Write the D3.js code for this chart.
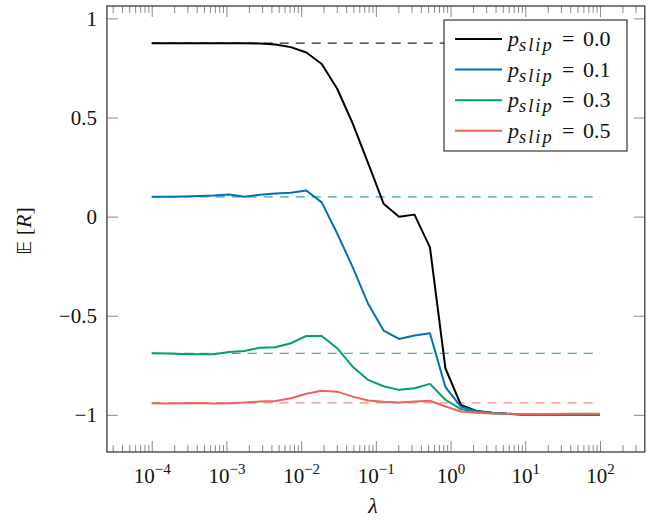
<!DOCTYPE html>
<html>
<head>
<meta charset="utf-8">
<script src="https://cdn.jsdelivr.net/npm/d3@7"></script>
<style>
  html, body { margin: 0; padding: 0; background: #fff; }
  svg { display: block; }
</style>
</head>
<body>
<script>
// Regularisation strengths (log-spaced sweep, 30 settings)
const lambdas = [
  1.000e-4, 1.610e-4, 2.593e-4, 4.175e-4, 6.723e-4,
  1.083e-3, 1.743e-3, 2.807e-3, 4.520e-3, 7.279e-3,
  1.172e-2, 1.887e-2, 3.039e-2, 4.894e-2, 7.880e-2,
  0.1269, 0.2043, 0.3290, 0.5298, 0.8532,
  1.374, 2.212, 3.562, 5.736, 9.237,
  14.87, 23.95, 38.57, 62.10, 100.0
];

// Expected return for each slip probability
const rewardSlip00 = [
  0.875, 0.875, 0.875, 0.875, 0.875, 0.875, 0.875, 0.873, 0.868, 0.855,
  0.828, 0.770, 0.645, 0.470, 0.270, 0.065, -0.001, 0.010, -0.155, -0.765,
  -0.950, -0.980, -0.990, -0.995, -0.998, -1.000, -1.000, -1.000, -1.000, -1.000
];
const rewardSlip01 = [
  0.100, 0.100, 0.102, 0.104, 0.107, 0.112, 0.100, 0.110, 0.116, 0.120,
  0.132, 0.072, -0.085, -0.255, -0.440, -0.575, -0.617, -0.600, -0.588, -0.860,
  -0.958, -0.982, -0.990, -0.995, -0.998, -1.000, -1.000, -1.000, -1.000, -1.000
];
const rewardSlip03 = [
  -0.689, -0.691, -0.693, -0.694, -0.694, -0.683, -0.678, -0.661, -0.659, -0.639,
  -0.602, -0.602, -0.664, -0.757, -0.824, -0.856, -0.874, -0.866, -0.844, -0.924,
  -0.971, -0.985, -0.992, -0.996, -0.998, -1.000, -1.000, -1.000, -0.999, -0.999
];
const rewardSlip05 = [
  -0.941, -0.943, -0.942, -0.940, -0.943, -0.941, -0.938, -0.933, -0.930, -0.916,
  -0.894, -0.879, -0.883, -0.908, -0.928, -0.934, -0.938, -0.933, -0.929, -0.958,
  -0.983, -0.990, -0.993, -0.995, -0.996, -0.997, -0.996, -0.994, -0.994, -0.994
];

// Unregularised reference return per slip probability (dashed)
const baselineReward = [0.875, 0.100, -0.690, -0.940];

const slipLabels = ["0.0", "0.1", "0.3", "0.5"];
const seriesColors = ["#000000", "#0173b2", "#029e73", "#ee625b"];

const xMajorTicks = [1e-4, 1e-3, 1e-2, 1e-1, 1e0, 1e1, 1e2];
const xTickExponents = ["\u22124", "\u22123", "\u22122", "\u22121", "0", "1", "2"];
const yTicks = [-1, -0.5, 0, 0.5, 1];
const yTickLabels = ["\u22121", "\u22120.5", "0", "0.5", "1"];

const W = 652, H = 521;
const plotL = 106.9, plotR = 644.8, plotT = 6, plotB = 452;
const serifFont = "'Liberation Serif', 'Times New Roman', 'DejaVu Serif', serif";

const series = [rewardSlip00, rewardSlip01, rewardSlip03, rewardSlip05];

const svg = d3.select("body").append("svg")
  .attr("width", W).attr("height", H)
  .attr("font-family", serifFont);
svg.append("rect").attr("width", W).attr("height", H).attr("fill", "#fff");

const x = d3.scaleLog().domain([Math.pow(10, -4.6), Math.pow(10, 2.6)]).range([plotL, plotR]);
const y = d3.scaleLinear().domain([-1.1875, 1.0625]).range([plotB, plotT]);

// minor ticks at 2..9 × 10^d inside the domain
const [xmin, xmax] = x.domain();
const xMinorTicks = [];
for (let d = -5; d <= 2; d++) {
  for (let m = 2; m <= 9; m++) {
    const v = m * Math.pow(10, d);
    if (v >= xmin && v <= xmax) xMinorTicks.push(v);
  }
}

const tickColor = "#8a8a8a";

function styleAxis(g) {
  g.attr("font-family", null).attr("font-size", null);
  g.select(".domain").remove();
  g.selectAll(".tick line").attr("stroke", tickColor).attr("stroke-width", 1);
  g.selectAll(".tick text").remove();
}

// x axis ticks (bottom and mirrored top)
svg.append("g").attr("transform", `translate(0,${plotB})`)
  .call(d3.axisBottom(x).tickValues(xMinorTicks).tickSize(-7).tickFormat(""))
  .call(styleAxis);
svg.append("g").attr("transform", `translate(0,${plotT})`)
  .call(d3.axisTop(x).tickValues(xMinorTicks).tickSize(-7).tickFormat(""))
  .call(styleAxis);
const xBottom = svg.append("g").attr("transform", `translate(0,${plotB})`)
  .call(d3.axisBottom(x).tickValues(xMajorTicks).tickSize(-11).tickFormat(""))
  .call(styleAxis);
svg.append("g").attr("transform", `translate(0,${plotT})`)
  .call(d3.axisTop(x).tickValues(xMajorTicks).tickSize(-11).tickFormat(""))
  .call(styleAxis);

// x tick labels 10^k
xBottom.selectAll(".tick").each(function(d, i) {
  const t = d3.select(this).append("text")
    .attr("y", 30.7)
    .attr("text-anchor", "middle")
    .attr("font-family", serifFont)
    .attr("font-size", 21)
    .attr("fill", "#111");
  t.append("tspan").text("10");
  t.append("tspan").attr("dy", -9).attr("font-size", 15).text(xTickExponents[i]);
});

// y axis ticks (left and mirrored right)
const yLeft = svg.append("g").attr("transform", `translate(${plotL},0)`)
  .call(d3.axisLeft(y).tickValues(yTicks).tickSize(-11).tickFormat(""))
  .call(styleAxis);
svg.append("g").attr("transform", `translate(${plotR},0)`)
  .call(d3.axisRight(y).tickValues(yTicks).tickSize(-11).tickFormat(""))
  .call(styleAxis);

yLeft.selectAll(".tick").each(function(d, i) {
  d3.select(this).append("text")
    .attr("x", -10)
    .attr("y", 7)
    .attr("text-anchor", "end")
    .attr("font-family", serifFont)
    .attr("font-size", 21)
    .attr("fill", "#111")
    .text(yTickLabels[i]);
});

// dashed reference levels
baselineReward.forEach((v, i) => {
  svg.append("line")
    .attr("x1", x(lambdas[0])).attr("x2", x(lambdas[lambdas.length - 1]))
    .attr("y1", y(v)).attr("y2", y(v))
    .attr("stroke", seriesColors[i])
    .attr("stroke-width", 1.3)
    .attr("stroke-opacity", i === 0 ? 0.85 : 0.75)
    .attr("stroke-dasharray", "9,7");
});

// return curves
const line = d3.line()
  .x((d, i) => x(lambdas[i]))
  .y(d => y(d));

series.forEach((vals, i) => {
  svg.append("path")
    .datum(vals)
    .attr("d", line)
    .attr("fill", "none")
    .attr("stroke", seriesColors[i])
    .attr("stroke-width", 2)
    .attr("stroke-linejoin", "round");
});

// frame
svg.append("rect")
  .attr("x", plotL).attr("y", plotT)
  .attr("width", plotR - plotL).attr("height", plotB - plotT)
  .attr("fill", "none").attr("stroke", "#3a3a3a").attr("stroke-width", 1.3);

// legend
const lg = svg.append("g");
lg.append("rect")
  .attr("x", 444).attr("y", 20).attr("width", 183).attr("height", 131)
  .attr("fill", "#fff").attr("stroke", "#222").attr("stroke-width", 1.1);
slipLabels.forEach((lab, i) => {
  const ry = 39 + i * 30.6;
  lg.append("line")
    .attr("x1", 455).attr("x2", 502).attr("y1", ry).attr("y2", ry)
    .attr("stroke", seriesColors[i]).attr("stroke-width", 2);
  const t = lg.append("text").attr("x", 508).attr("y", ry + 7)
    .attr("font-family", serifFont).attr("font-size", 22).attr("fill", "#111");
  t.append("tspan").attr("font-style", "italic").text("p");
  t.append("tspan").attr("dy", 5).attr("font-style", "italic").attr("font-size", 18.5)
    .attr("letter-spacing", 2).text("slip");
  t.append("tspan").attr("x", 562).attr("dy", -5).text("=");
  t.append("tspan").attr("x", 583).text(lab);
});

// axis titles
svg.append("text")
  .attr("x", 373).attr("y", 513)
  .attr("text-anchor", "middle")
  .attr("font-family", serifFont)
  .attr("font-size", 22).attr("font-style", "italic").attr("fill", "#111")
  .text("\u03bb");

const yl = svg.append("text")
  .attr("transform", "translate(31,231) rotate(-90)")
  .attr("text-anchor", "middle")
  .attr("font-family", serifFont)
  .attr("font-size", 22).attr("fill", "#111");
yl.append("tspan").attr("font-family", "'DejaVu Sans', sans-serif").attr("font-size", 19).text("\ud835\udd3c");
yl.append("tspan").text(" [");
yl.append("tspan").attr("font-style", "italic").text("R");
yl.append("tspan").text("]");
</script>
</body>
</html>
